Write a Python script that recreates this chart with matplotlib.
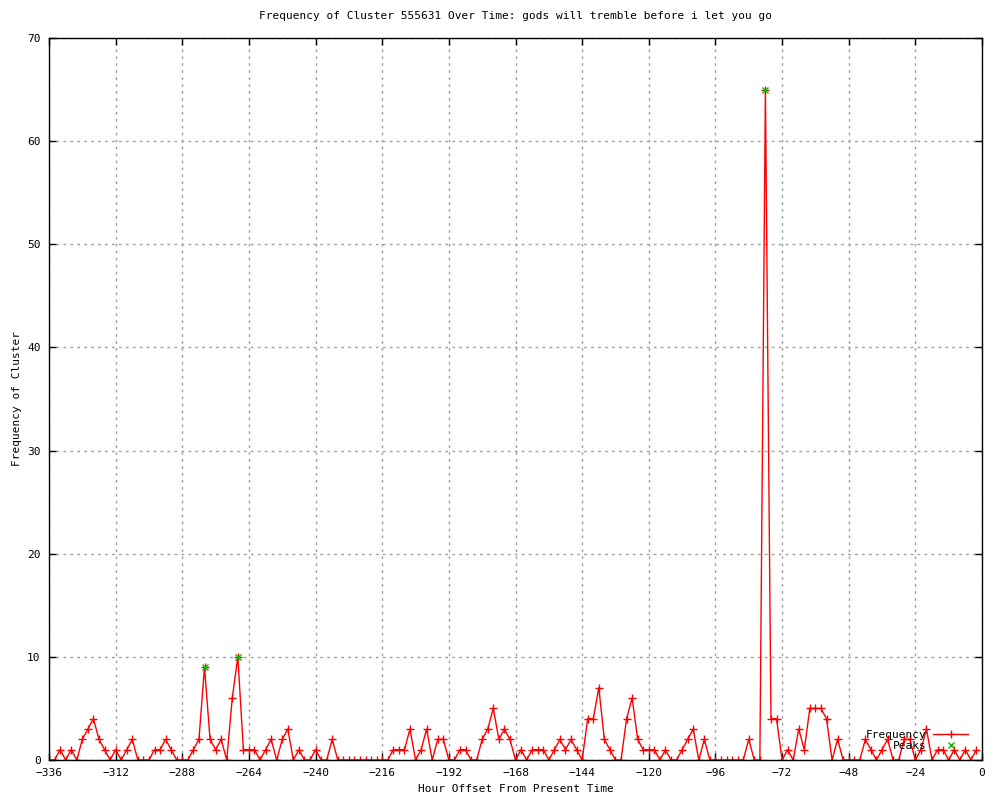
import matplotlib
matplotlib.use("Agg")
import matplotlib.pyplot as plt

# hours before now, every 2 hours
hours = list(range(-336, 0, 2))
freq = [0, 0, 1, 0, 1, 0, 2, 3, 4, 2, 1, 0, 1, 0, 1, 2, 0, 0, 0, 1,
        1, 2, 1, 0, 0, 0, 1, 2, 9, 2, 1, 2, 0, 6, 10, 1, 1, 1, 0, 1,
        2, 0, 2, 3, 0, 1, 0, 0, 1, 0, 0, 2, 0, 0, 0, 0, 0, 0, 0, 0,
        0, 0, 1, 1, 1, 3, 0, 1, 3, 0, 2, 2, 0, 0, 1, 1, 0, 0, 2, 3,
        5, 2, 3, 2, 0, 1, 0, 1, 1, 1, 0, 1, 2, 1, 2, 1, 0, 4, 4, 7,
        2, 1, 0, 0, 4, 6, 2, 1, 1, 1, 0, 1, 0, 0, 1, 2, 3, 0, 2, 0,
        0, 0, 0, 0, 0, 0, 2, 0, 0, 65, 4, 4, 0, 1, 0, 3, 1, 5, 5, 5,
        4, 0, 2, 0, 0, 0, 0, 2, 1, 0, 1, 2, 0, 0, 2, 2, 0, 1, 3, 0,
        1, 1, 0, 1, 0, 1, 0, 1]

peak_hours = [-280, -268, -78]
peak_vals = [9, 10, 65]

xticks = list(range(-336, 1, 24))
yticks = list(range(0, 71, 10))

plt.rcParams['font.family'] = ['DejaVu Sans Mono']
plt.rcParams['font.size'] = 8

fig = plt.figure(figsize=(10, 8), dpi=100)
ax = fig.add_axes([0.049, 0.05, 0.933, 0.9025])

ax.plot(hours, freq, color='red', lw=1, marker='+', ms=6, mew=1, label='Frequency')
ax.plot(peak_hours, peak_vals, ls='none', color='#00c000', marker='x', ms=5, mew=1, label='Peaks')

ax.set_xlim(-336, 0)
ax.set_ylim(0, 70)
ax.set_xticks(xticks)
ax.set_yticks(yticks)
ax.tick_params(direction='in', top=True, right=True, length=5, width=1, pad=6)
ax.grid(True, color='#a0a0a0', ls=(0, (2, 3)), lw=1)
for s in ax.spines.values():
    s.set_linewidth(1)

ax.set_title('Frequency of Cluster 555631 Over Time: gods will tremble before i let you go', fontsize=8, pad=14)
ax.set_xlabel('Hour Offset From Present Time', labelpad=4)
ax.set_ylabel('Frequency of Cluster', labelpad=4)

ax.legend(loc='lower right', bbox_to_anchor=(0.995, 0.0), frameon=False, markerfirst=False,
          handlelength=3.2, handletextpad=0.6, labelspacing=0.1, borderpad=0.3)

fig.savefig('out.png', dpi=100)
